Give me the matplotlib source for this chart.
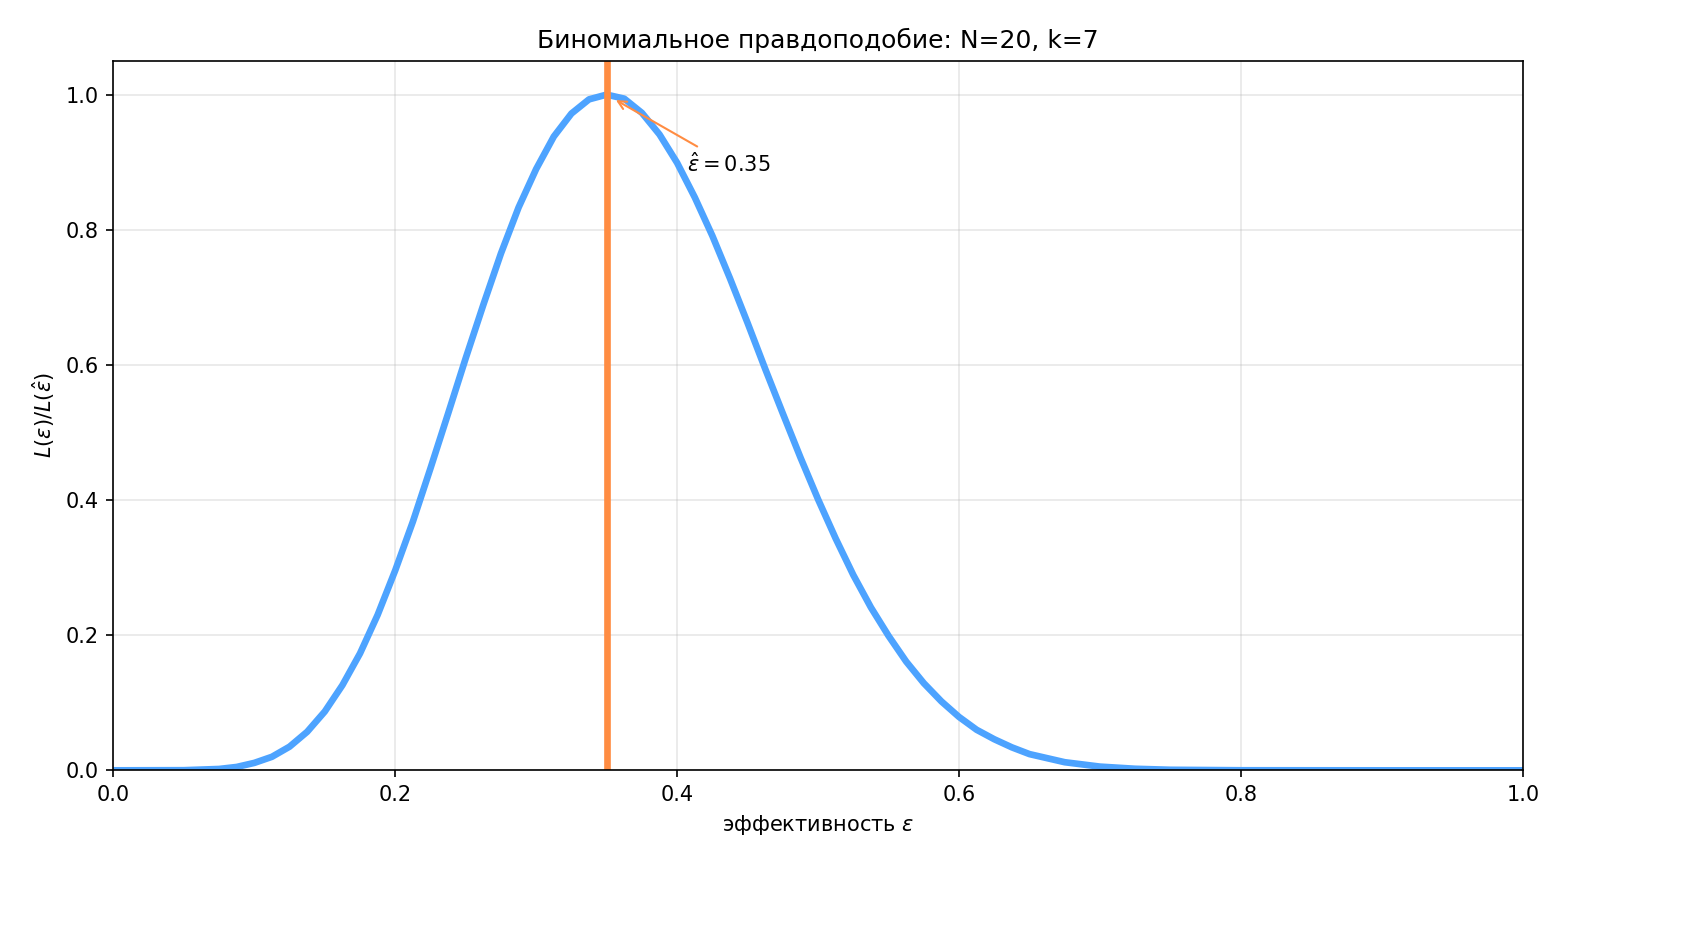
import matplotlib
matplotlib.use("Agg")
import matplotlib.pyplot as plt

# values
eps = [0.0, 0.05, 0.075, 0.0875, 0.1, 0.1125, 0.125, 0.1375, 0.15, 0.1625, 0.175, 0.1875,
       0.2, 0.2125, 0.225, 0.2375, 0.25, 0.2625, 0.275, 0.2875, 0.3, 0.3125, 0.325, 0.3375,
       0.35, 0.3625, 0.375, 0.3875, 0.4, 0.4125, 0.425, 0.4375, 0.45, 0.4625, 0.475, 0.4875,
       0.5, 0.5125, 0.525, 0.5375, 0.55, 0.5625, 0.575, 0.5875, 0.6, 0.6125, 0.625, 0.6375,
       0.65, 0.675, 0.7, 0.725, 0.75, 0.8, 0.9, 1.0]
ratio = [0.0, 0.0002, 0.002, 0.005, 0.011, 0.020, 0.035, 0.057, 0.087, 0.126, 0.173, 0.230,
         0.296, 0.368, 0.447, 0.528, 0.610, 0.689, 0.765, 0.833, 0.890, 0.938, 0.972, 0.993,
         1.0, 0.994, 0.973, 0.941, 0.899, 0.848, 0.791, 0.728, 0.662, 0.594, 0.528, 0.463,
         0.401, 0.343, 0.289, 0.241, 0.199, 0.161, 0.129, 0.102, 0.079, 0.060, 0.046, 0.034,
         0.024, 0.012, 0.0055, 0.0023, 0.0008, 0.0001, 0.0, 0.0]
eps_hat = 0.35

fig, ax = plt.subplots(figsize=(11.28, 6.24), dpi=150)
fig.subplots_adjust(left=0.067, right=0.9, top=0.935, bottom=0.177)

ax.plot(eps, ratio, color='#4da3ff', lw=3.2, solid_joinstyle='round')
ax.axvline(eps_hat, color='#ff8c42', lw=3.2)
ax.annotate(r'$\hat{\varepsilon}=0.35$', xy=(eps_hat + 0.004, 0.995), xytext=(0.407, 0.885),
            arrowprops=dict(arrowstyle='->', color='#ff8c42', lw=1))

ax.set_xlim(0, 1)
ax.set_ylim(0, 1.05)
ax.grid(alpha=0.3)
ax.set_xlabel(r'эффективность $\varepsilon$')
ax.set_ylabel(r'$L(\varepsilon)/L(\hat{\varepsilon})$')
ax.set_title('Биномиальное правдоподобие: N=20, k=7')

fig.savefig('out.png', dpi=150)
